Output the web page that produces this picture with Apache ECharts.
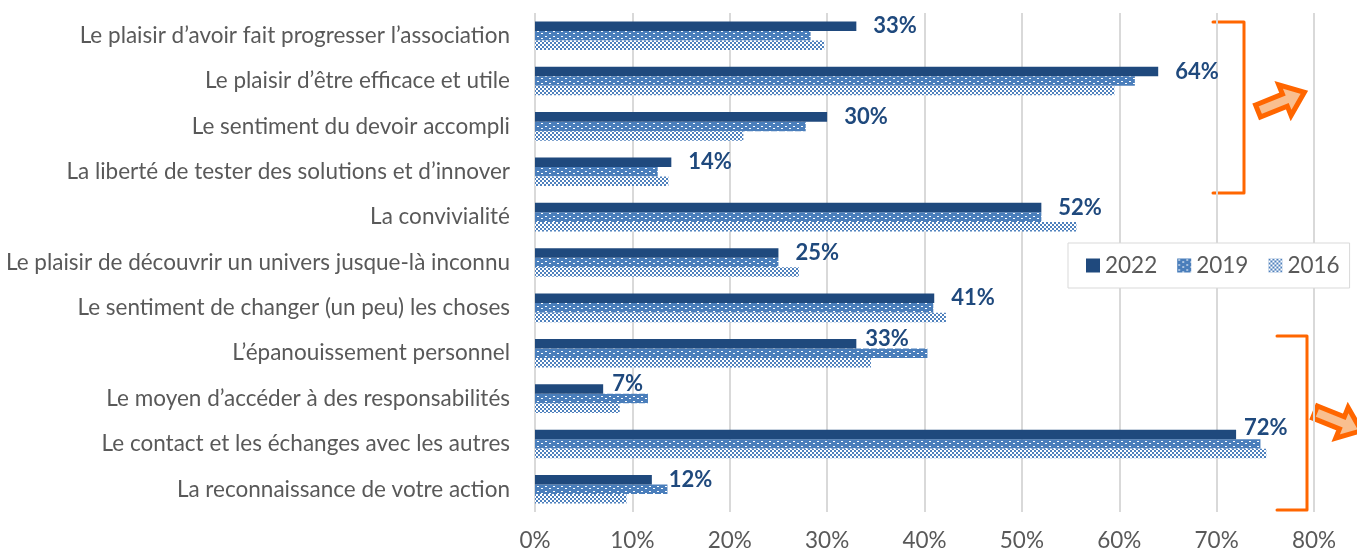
<!DOCTYPE html>
<html>
<head>
<meta charset="utf-8">
<script src="https://cdn.jsdelivr.net/npm/echarts@6/dist/echarts.min.js"></script>
<style>
  html, body { margin: 0; padding: 0; background: #ffffff; }
  #chart { width: 1357px; height: 551px; }
</style>
</head>
<body>
<div id="chart"></div>
<script>
const categories = [
  "Le plaisir d’avoir fait progresser l’association",
  "Le plaisir d’être efficace et utile",
  "Le sentiment du devoir accompli",
  "La liberté de tester des solutions et d’innover",
  "La convivialité",
  "Le plaisir de découvrir un univers jusque-là inconnu",
  "Le sentiment de changer (un peu) les choses",
  "L’épanouissement personnel",
  "Le moyen d’accéder à des responsabilités",
  "Le contact et les échanges avec les autres",
  "La reconnaissance de votre action"
];
const seriesNames = ["2022", "2019", "2016"];
const values2022 = [33, 64, 30, 14, 52, 25, 41, 33, 7, 72, 12];
const values2019 = [28.3, 61.6, 27.8, 12.6, 52, 25, 40.9, 40.3, 11.6, 74.5, 13.6];
const values2016 = [29.7, 59.5, 21.4, 13.7, 55.6, 27.1, 42.2, 34.5, 8.7, 75.1, 9.4];
const xTicks = [0, 10, 20, 30, 40, 50, 60, 70, 80];

const FONT = "Lato";
const GREY = "#595959";
const NAVY = "#1F497D";
const BLUE = "#4F81BD";
const ORANGE = "#FF6600";
const ORANGE_FILL = "#F9BF8F";

function makePattern(w, h, draw) {
  const c = document.createElement("canvas");
  c.width = w; c.height = h;
  const ctx = c.getContext("2d");
  draw(ctx);
  return { image: c, repeat: "repeat" };
}
const dotPattern = makePattern(8, 5, ctx => {
  ctx.fillStyle = "#4A7EBB"; ctx.fillRect(0, 0, 8, 5);
  ctx.fillStyle = "#ffffff";
  ctx.fillRect(1, 1, 2, 1);
  ctx.fillRect(5, 3, 2, 1);
});
const checkPattern = makePattern(4, 4, ctx => {
  ctx.fillStyle = "#ffffff"; ctx.fillRect(0, 0, 4, 4);
  ctx.fillStyle = BLUE;
  ctx.fillRect(0, 0, 2, 2);
  ctx.fillRect(2, 2, 2, 2);
});

const labelTweaks = {
  7: { distance: 9, offset: [0, -5] },
  8: { distance: 9, offset: [0, -5] },
  9: { distance: 8, offset: [0, -7] }
};

const chart = echarts.init(document.getElementById("chart"), null, { renderer: "canvas" });

function arrowPoints() {
  return [[0, -6.5], [29, -6.5], [29, -16.5], [50, 0], [29, 16.5], [29, 6.5], [0, 6.5]];
}

const option = {
  animation: false,
  textStyle: { fontFamily: FONT },
  grid: { left: 535, right: 43, top: 13, bottom: 39, containLabel: false, outerBoundsMode: "none" },
  legend: {
    data: seriesNames,
    left: 1068, top: 243,
    orient: "horizontal",
    padding: [11, 10, 11, 18],
    itemGap: 20,
    itemWidth: 14, itemHeight: 14,
    icon: "rect",
    borderColor: "#D9D9D9", borderWidth: 1,
    backgroundColor: "#ffffff",
    textStyle: { color: GREY, fontSize: 22.5, fontFamily: FONT }
  },
  xAxis: {
    type: "value",
    min: xTicks[0], max: xTicks[xTicks.length - 1], interval: 10,
    axisLine: { show: false },
    axisTick: { show: false },
    splitLine: { show: true, lineStyle: { color: "#D9D9D9", width: 2 } },
    axisLabel: { color: GREY, fontSize: 22.5, margin: 17, formatter: "{value}%" }
  },
  yAxis: {
    type: "category",
    data: categories,
    inverse: true,
    axisLine: { show: false },
    axisTick: { show: false },
    axisLabel: { color: GREY, fontSize: 22.5, margin: 25 }
  },
  series: [
    {
      name: seriesNames[0], type: "bar",
      barGap: "0%", barCategoryGap: "37%",
      itemStyle: { color: NAVY },
      label: {
        show: true, position: "right", distance: 17,
        color: NAVY, fontWeight: "bold", fontSize: 22, fontFamily: FONT,
        formatter: p => Math.round(p.value) + "%"
      },
      data: values2022.map((v, i) => labelTweaks[i] ? { value: v, label: labelTweaks[i] } : v),
      z: 3
    },
    {
      name: seriesNames[1], type: "bar",
      barGap: "0%", barCategoryGap: "37%",
      itemStyle: { color: dotPattern },
      data: values2019
    },
    {
      name: seriesNames[2], type: "bar",
      barGap: "0%", barCategoryGap: "37%",
      itemStyle: { color: checkPattern },
      data: values2016
    }
  ],
  graphic: [
    { type: "polyline", shape: { points: [[1213, 22], [1244, 22], [1244, 193], [1213, 193]] },
      style: { fill: null, stroke: ORANGE, lineWidth: 3, lineJoin: "round", lineCap: "round" } },
    { type: "polyline", shape: { points: [[1277, 336], [1307, 336], [1307, 510], [1277, 510]] },
      style: { fill: null, stroke: ORANGE, lineWidth: 3, lineJoin: "round", lineCap: "round" } },
    { type: "polygon", x: 1258, y: 111, rotation: 22 * Math.PI / 180,
      shape: { points: arrowPoints() },
      style: { fill: ORANGE_FILL, stroke: ORANGE, lineWidth: 5, lineJoin: "miter" } },
    { type: "polygon", x: 1315, y: 412, rotation: -22 * Math.PI / 180,
      shape: { points: arrowPoints() },
      style: { fill: ORANGE_FILL, stroke: ORANGE, lineWidth: 5, lineJoin: "miter" } }
  ]
};
chart.setOption(option);
</script>
</body>
</html>
